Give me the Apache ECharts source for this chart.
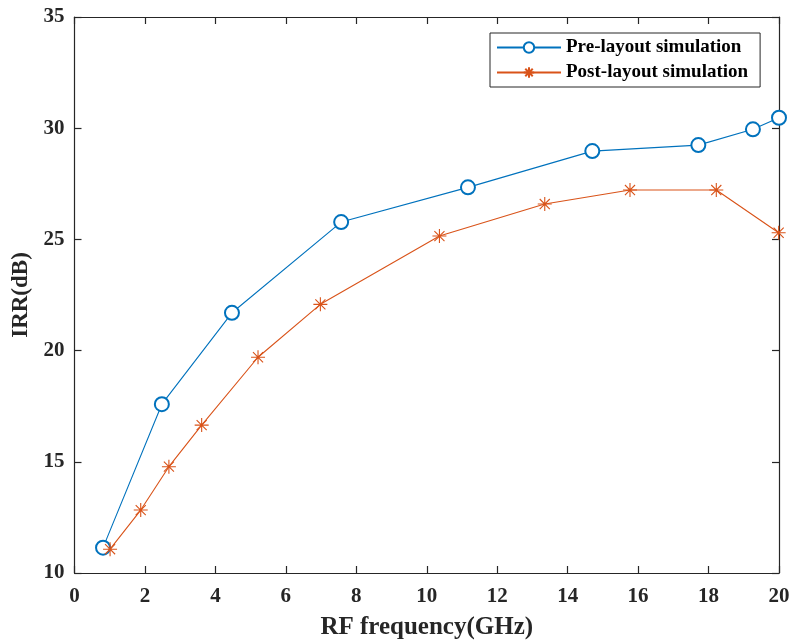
<!DOCTYPE html>
<html>
<head>
<meta charset="utf-8">
<script src="https://cdn.jsdelivr.net/npm/echarts@6/dist/echarts.min.js"></script>
<style>
  html, body { margin: 0; padding: 0; background: #fff; }
  #chart { width: 793px; height: 643px; }
</style>
</head>
<body>
<div id="chart"></div>
<script>
// RF frequency (GHz) and image-rejection ratio (dB) for each simulation run
const preFreq = [0.81, 2.48, 4.47, 7.57, 11.17, 14.70, 17.71, 19.26, 20.0];
const preIRR  = [11.14, 17.59, 21.70, 25.78, 27.34, 28.97, 29.24, 29.95, 30.47];
const postFreq = [1.01, 1.88, 2.68, 3.61, 5.21, 6.98, 10.36, 13.35, 15.77, 18.22, 19.99];
const postIRR  = [11.07, 12.83, 14.78, 16.65, 19.70, 22.08, 25.15, 26.59, 27.22, 27.22, 25.30];
const seriesNames = ['Pre-layout simulation', 'Post-layout simulation'];
const xTitle = 'RF frequency(GHz)';
const yTitle = 'IRR(dB)';

const FONT = '"Liberation Serif", "Times New Roman", serif';
const AXIS = '#262626';
const BLUE = '#0072BD';
const ORANGE = '#D95319';
const STAR = 'path://M0,-1L0,1M-1,0L1,0M-0.72,-0.72L0.72,0.72M-0.72,0.72L0.72,-0.72';

const zip = (xs, ys) => xs.map((x, i) => [x, ys[i]]);

const baseAxis = {
  axisLine: { show: true, onZero: false, lineStyle: { color: AXIS, width: 1.2 } },
  axisTick: { show: true, inside: true, length: 7, lineStyle: { color: AXIS, width: 1.2 } },
  splitLine: { show: false }
};

const chart = echarts.init(document.getElementById('chart'), null, { renderer: 'canvas' });
chart.setOption({
  backgroundColor: '#ffffff',
  animation: false,
  grid: { left: 74.5, right: 14, top: 17, bottom: 70, containLabel: false, outerBoundsMode: 'none' },
  legend: {
    orient: 'vertical',
    left: 490, top: 33,
    padding: [5, 12, 5, 6],
    itemGap: 6,
    itemWidth: 64, itemHeight: 13,
    borderColor: AXIS, borderWidth: 1,
    backgroundColor: '#fff',
    textStyle: { fontFamily: FONT, fontWeight: 'bold', fontSize: 19, color: '#000' },
    data: seriesNames
  },
  xAxis: [
    Object.assign({}, baseAxis, {
      type: 'value', min: 0, max: 20, interval: 2, position: 'bottom',
      name: xTitle, nameLocation: 'middle', nameGap: 42,
      nameTextStyle: { fontFamily: FONT, fontWeight: 'bold', fontSize: 25, color: '#262626' },
      axisLabel: { fontFamily: FONT, fontWeight: 'bold', fontSize: 21, color: '#262626', margin: 13 }
    }),
    Object.assign({}, baseAxis, {
      type: 'value', min: 0, max: 20, interval: 2, position: 'top',
      axisLabel: { show: false }
    })
  ],
  yAxis: [
    Object.assign({}, baseAxis, {
      type: 'value', min: 10, max: 35, interval: 5, position: 'left',
      name: yTitle, nameLocation: 'middle', nameGap: 41,
      nameTextStyle: { fontFamily: FONT, fontWeight: 'bold', fontSize: 23, color: '#262626' },
      axisLabel: { fontFamily: FONT, fontWeight: 'bold', fontSize: 21, color: '#262626', margin: 10 }
    }),
    Object.assign({}, baseAxis, {
      type: 'value', min: 10, max: 35, interval: 5, position: 'right',
      axisLabel: { show: false }
    })
  ],
  series: [
    {
      name: seriesNames[0], type: 'line',
      data: zip(preFreq, preIRR),
      symbol: 'emptyCircle', symbolSize: 14, showAllSymbol: true,
      lineStyle: { color: BLUE, width: 1.1 },
      itemStyle: { color: BLUE, borderColor: BLUE, borderWidth: 0.9 },
      emphasis: { disabled: true }
    },
    {
      name: seriesNames[1], type: 'line',
      data: zip(postFreq, postIRR),
      symbol: STAR, symbolSize: 14, showAllSymbol: true,
      lineStyle: { color: ORANGE, width: 1.1 },
      itemStyle: { color: ORANGE, borderColor: ORANGE, borderWidth: 1.1 },
      emphasis: { disabled: true }
    }
  ]
});
</script>
</body>
</html>
